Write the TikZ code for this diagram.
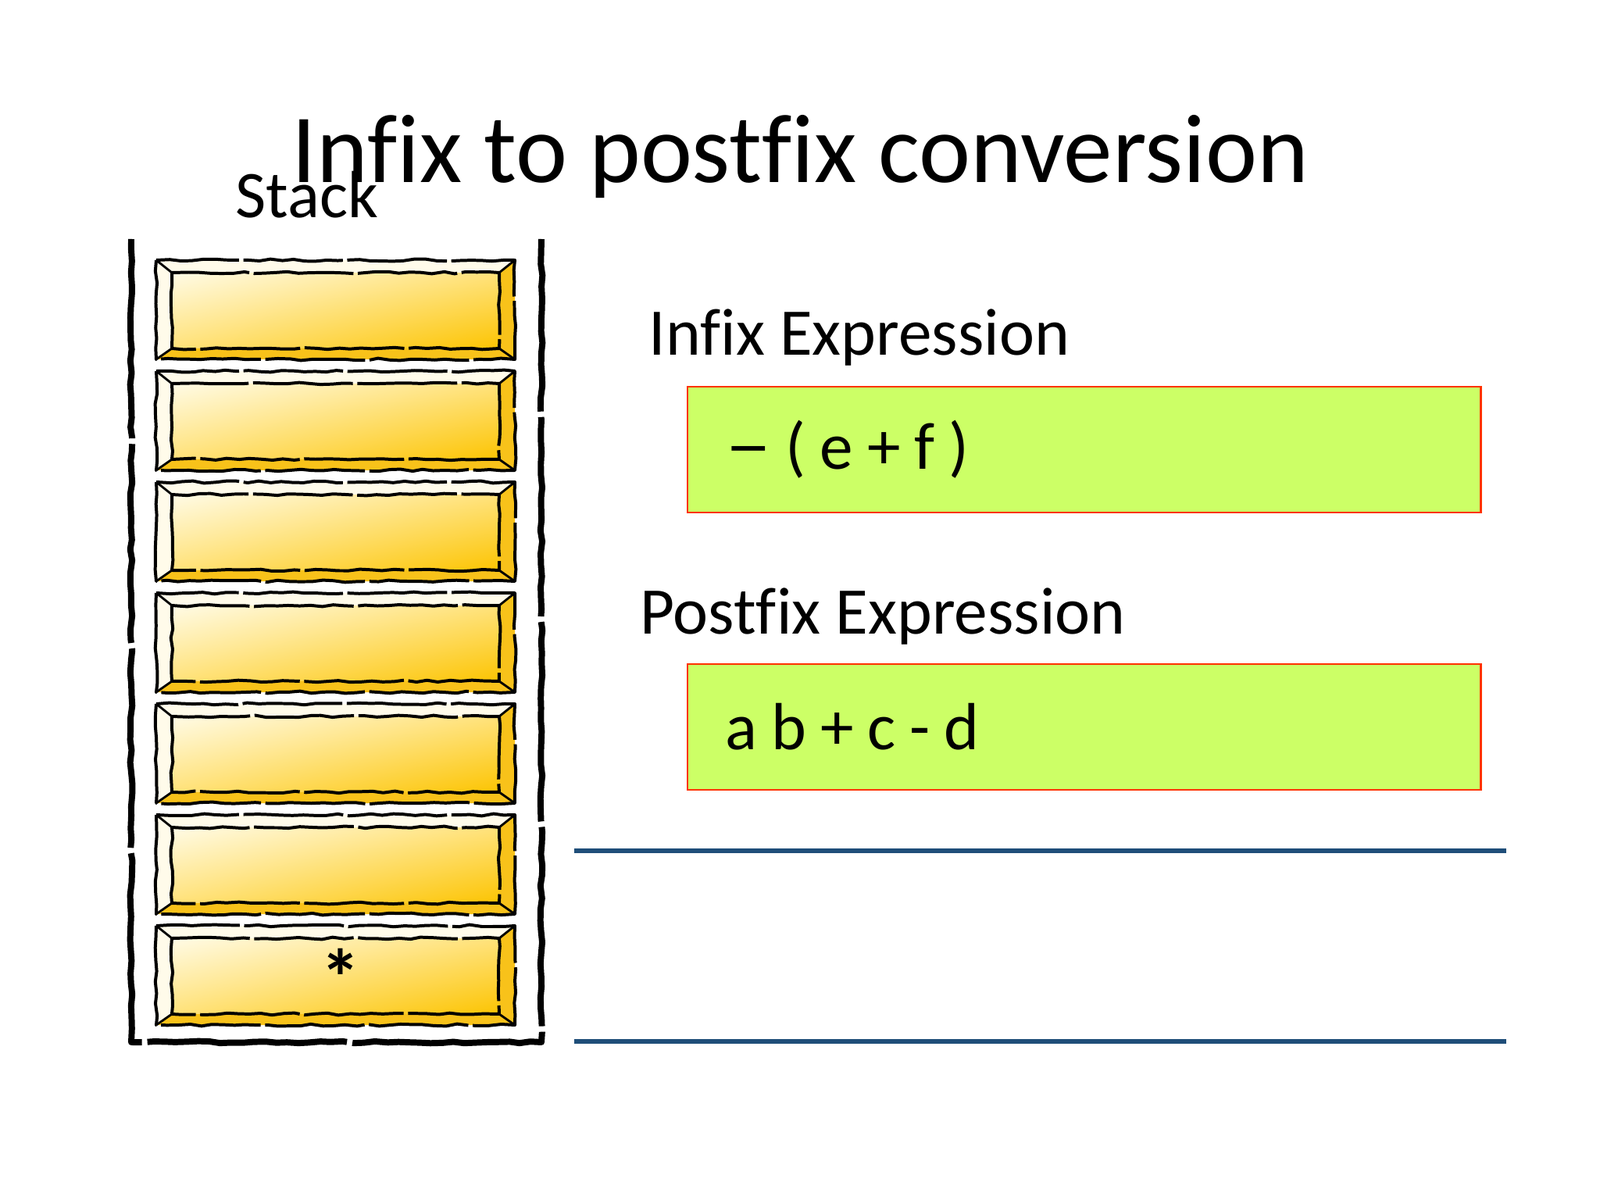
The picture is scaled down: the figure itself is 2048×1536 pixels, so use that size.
\documentclass[tikz,border=0pt]{standalone}
\usepackage{fontspec}
\usepackage{graphicx}
\setmainfont{Carlito}[Ligatures={TeX,NoCommon}]
\usetikzlibrary{decorations.pathmorphing, positioning, calc, shadings}

\definecolor{lime}{HTML}{CCFF66}
\definecolor{boxred}{HTML}{FF3300}
\definecolor{ruleblue}{HTML}{1F4E79}
\definecolor{cream}{HTML}{FFFBEA}
\definecolor{gold}{HTML}{F8C21A}
\definecolor{goldlight}{HTML}{FFFBE6}
\definecolor{goldmid}{HTML}{FFE27A}
\definecolor{golddeep}{HTML}{FCC402}

\protected\def\exprspacing{\spaceskip=6.3pt\relax}

\tikzset{
  rough/.style={decorate, decoration={random steps, segment length=5pt, amplitude=0.5pt}},
  brickline/.style={rough, line width=1.4pt, line join=round, dash pattern=on 45pt off 2pt},
  wall/.style={rough, line width=2.8pt, line join=round, dash pattern=on 90pt off 2.5pt},
  exprbox/.style={draw=boxred, line width=0.8pt, fill=lime, anchor=north west,
    minimum width=357pt, minimum height=56.5pt, text width=323pt, inner xsep=17pt,
    align=left, font=\fontsize{30}{36}\selectfont},
  lbl/.style={inner sep=0pt, anchor=base west, font=\fontsize{30}{36}\selectfont},
  rulebar/.style={draw=ruleblue, line width=2.1pt}
}

\begin{document}
\begin{tikzpicture}[x=0.3515625pt, y=-0.3515625pt]
\useasboundingbox (0,0) rectangle (2048,1536);

% title
\node[inner sep=0pt, anchor=base west, font=\fontsize{44}{53}\selectfont] (title) at (373,234) {Infix to postfix conversion};
\node[lbl] (stacklbl) at (301,279) {Stack};

% stack bricks
\foreach \i in {0,...,6} {
  \pgfmathsetmacro{\yT}{333+142*\i}
  \pgfmathsetmacro{\yB}{\yT+127}
  \pgfmathsetmacro{\yt}{\yT+16}
  \pgfmathsetmacro{\yb}{\yB-14}
  \shade[upper left=goldlight, lower left=goldmid, upper right=goldmid, lower right=golddeep]
    (220,\yt) rectangle (639,\yb);
  \fill[cream] (200,\yT) -- (659,\yT) -- (639,\yt) -- (220,\yt) -- cycle;
  \fill[cream] (200,\yT) -- (220,\yt) -- (220,\yb) -- (200,\yB) -- cycle;
  \fill[gold] (200,\yB) -- (220,\yb) -- (639,\yb) -- (659,\yB) -- cycle;
  \fill[gold] (659,\yT) -- (639,\yt) -- (639,\yb) -- (659,\yB) -- cycle;
  \draw[brickline] (200,\yT) rectangle (659,\yB);
  \draw[brickline] (220,\yt) rectangle (639,\yb);
  \draw[line width=1pt] (200,\yT) -- (220,\yt) (659,\yT) -- (639,\yt)
    (200,\yB) -- (220,\yb) (659,\yB) -- (639,\yb);
}
\draw[wall] (168,306) -- (168,1334) -- (693,1334) -- (693,306);
\node[font=\fontsize{36}{40}\selectfont\bfseries] (star) at (436,1251) {*};

% expressions
\node[lbl] (infixlbl) at (830,455) {Infix Expression};
\node[exprbox] (infixbox) at (879,494) {\exprspacing \scalebox{1.4}[1.1]{–} ( e + f )};
\node[lbl] (postlbl) at (819,811) {Postfix Expression};
\node[exprbox] (postbox) at (879,849) {\exprspacing a b + c - d};

% output lines
\draw[rulebar] (735,1089) -- (1928,1089);
\draw[rulebar] (735,1333) -- (1928,1333);
\end{tikzpicture}
\end{document}
